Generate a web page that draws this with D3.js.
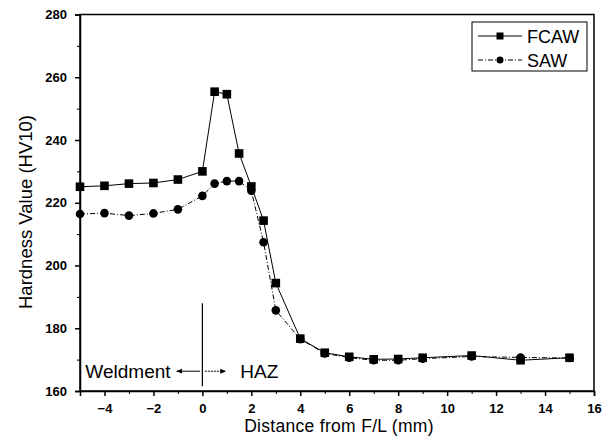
<!DOCTYPE html>
<html>
<head>
<meta charset="utf-8">
<script src="https://cdn.jsdelivr.net/npm/d3@7"></script>
<style>
  body { margin: 0; background: #fff; }
  svg text { font-family: "Liberation Sans", Arial, sans-serif; }
</style>
</head>
<body>
<div id="chart"></div>
<script>
// Hardness profile across the fusion line
const distance = [-5, -4, -3, -2, -1, 0, 0.5, 1, 1.5, 2, 2.5, 3, 4, 5, 6, 7, 8, 9, 11, 13, 15]
const fcaw = [225.1, 225.4, 226.1, 226.3, 227.4, 230.0, 255.4, 254.6, 235.7, 225.2, 214.3, 194.4, 176.7, 172.2, 170.9, 170.1, 170.2, 170.6, 171.3, 169.8, 170.6]
const saw = [216.4, 216.7, 215.9, 216.6, 217.9, 222.2, 226.1, 226.9, 226.9, 223.8, 207.4, 185.7, 176.5, 172.0, 170.6, 169.8, 169.8, 170.3, 171.0, 170.7, 170.5]
const xTicks = [-4, -2, 0, 2, 4, 6, 8, 10, 12, 14, 16]
const yTicks = [160, 180, 200, 220, 240, 260, 280]

const W = 613, H = 444
const margin = { top: 14.5, right: 19, bottom: 53, left: 80 }
const width = W - margin.left - margin.right
const height = H - margin.top - margin.bottom

const svg = d3.select("#chart").append("svg")
  .attr("width", W)
  .attr("height", H)

const g = svg.append("g")
  .attr("transform", `translate(${margin.left},${margin.top})`)

const x = d3.scaleLinear().domain([-5, 16]).range([0, width])
const y = d3.scaleLinear().domain([160, 280]).range([height, 0])

// Frame
g.append("rect")
  .attr("width", width)
  .attr("height", height)
  .attr("fill", "none")
  .attr("stroke", "#000")
  .attr("stroke-width", 1.5)

// Minor ticks
g.append("g")
  .attr("transform", `translate(0,${height})`)
  .call(d3.axisBottom(x).tickValues(d3.range(-5, 16, 2)).tickSize(3).tickFormat(""))
  .call(a => a.select(".domain").remove())
g.append("g")
  .call(d3.axisLeft(y).tickValues(d3.range(170, 280, 20)).tickSize(3).tickFormat(""))
  .call(a => a.select(".domain").remove())

// X axis
g.append("g")
  .attr("transform", `translate(0,${height})`)
  .call(d3.axisBottom(x).tickValues(xTicks).tickSize(5).tickPadding(8))
  .call(a => a.select(".domain").attr("stroke-width", 1.5))
  .call(a => a.selectAll("text").attr("font-size", 13).attr("font-weight", "bold").attr("fill", "#000"))
  .call(a => a.selectAll(".tick line").attr("stroke-width", 1.5))

// Y axis
g.append("g")
  .call(d3.axisLeft(y).tickValues(yTicks).tickSize(5).tickPadding(8))
  .call(a => a.select(".domain").attr("stroke-width", 1.5))
  .call(a => a.selectAll("text").attr("font-size", 13).attr("font-weight", "bold").attr("fill", "#000"))
  .call(a => a.selectAll(".tick line").attr("stroke-width", 1.5))

// Axis titles
svg.append("text")
  .attr("x", margin.left + width / 2 + 2)
  .attr("y", 432)
  .attr("text-anchor", "middle")
  .attr("font-size", 17.5)
  .attr("letter-spacing", 0.3)
  .text("Distance from F/L (mm)")

svg.append("text")
  .attr("transform", "translate(32,212) rotate(-90)")
  .attr("text-anchor", "middle")
  .attr("font-size", 18.5)
  .text("Hardness Value (HV10)")

const line = d3.line()
  .x(d => x(d[0]))
  .y(d => y(d[1]))

const fcawPts = distance.map((d, i) => [d, fcaw[i]])
const sawPts = distance.map((d, i) => [d, saw[i]])

// SAW series (dash-dot)
g.append("path")
  .datum(sawPts)
  .attr("d", line)
  .attr("fill", "none")
  .attr("stroke", "#000")
  .attr("stroke-width", 1)
  .attr("stroke-dasharray", "5,2,1,2")

g.selectAll(".saw")
  .data(sawPts)
  .enter()
  .append("circle")
  .attr("class", "saw")
  .attr("cx", d => x(d[0]))
  .attr("cy", d => y(d[1]))
  .attr("r", 4.3)
  .attr("fill", "#000")

// FCAW series (solid)
g.append("path")
  .datum(fcawPts)
  .attr("d", line)
  .attr("fill", "none")
  .attr("stroke", "#000")
  .attr("stroke-width", 1)

g.selectAll(".fcaw")
  .data(fcawPts)
  .enter()
  .append("rect")
  .attr("class", "fcaw")
  .attr("x", d => x(d[0]) - 4.3)
  .attr("y", d => y(d[1]) - 4.3)
  .attr("width", 8.6)
  .attr("height", 8.6)
  .attr("fill", "#000")

// Fusion line marker with zone labels
const zoneTop = 188, zoneBottom = 161.5, arrowY = 166.3
g.append("line")
  .attr("x1", x(0)).attr("x2", x(0))
  .attr("y1", y(zoneTop)).attr("y2", y(zoneBottom))
  .attr("stroke", "#000")
  .attr("stroke-width", 1.2)

const defs = svg.append("defs")
defs.append("marker")
  .attr("id", "arrow")
  .attr("viewBox", "0 0 10 10")
  .attr("refX", 9).attr("refY", 5)
  .attr("markerWidth", 6).attr("markerHeight", 6)
  .attr("orient", "auto")
  .append("path")
  .attr("d", "M0,1L10,5L0,9Z")
  .attr("fill", "#000")

g.append("line")
  .attr("x1", x(-0.1)).attr("x2", x(-1.05))
  .attr("y1", y(arrowY)).attr("y2", y(arrowY))
  .attr("stroke", "#000")
  .attr("marker-end", "url(#arrow)")

g.append("line")
  .attr("x1", x(0.1)).attr("x2", x(0.95))
  .attr("y1", y(arrowY)).attr("y2", y(arrowY))
  .attr("stroke", "#000")
  .attr("stroke-dasharray", "2,1")
  .attr("marker-end", "url(#arrow)")

g.append("text")
  .attr("x", x(-1.3))
  .attr("y", y(arrowY) + 6.5)
  .attr("text-anchor", "end")
  .attr("font-size", 19)
  .text("Weldment")

g.append("text")
  .attr("x", x(1.55))
  .attr("y", y(arrowY) + 6.5)
  .attr("font-size", 19)
  .text("HAZ")

// Legend
const legend = svg.append("g").attr("transform", "translate(472,22)")
legend.append("rect")
  .attr("width", 115)
  .attr("height", 49)
  .attr("fill", "#fff")
  .attr("stroke", "#000")
  .attr("stroke-width", 1)

const legendItems = [
  { name: "FCAW", shape: "square", dash: null },
  { name: "SAW", shape: "circle", dash: "5,2,1,2" }
]
legendItems.forEach((item, i) => {
  const ly = 14 + i * 24
  const row = legend.append("g").attr("transform", `translate(0,${ly})`)
  row.append("line")
    .attr("x1", 6).attr("x2", 50)
    .attr("stroke", "#000")
    .attr("stroke-dasharray", item.dash)
  if (item.shape === "square") {
    row.append("rect").attr("x", 24.5).attr("y", -3.5).attr("width", 7).attr("height", 7).attr("fill", "#000")
  } else {
    row.append("circle").attr("cx", 28).attr("r", 3.5).attr("fill", "#000")
  }
  row.append("text")
    .attr("x", 55)
    .attr("y", 6.5)
    .attr("font-size", 18)
    .text(item.name)
})
</script>
</body>
</html>
